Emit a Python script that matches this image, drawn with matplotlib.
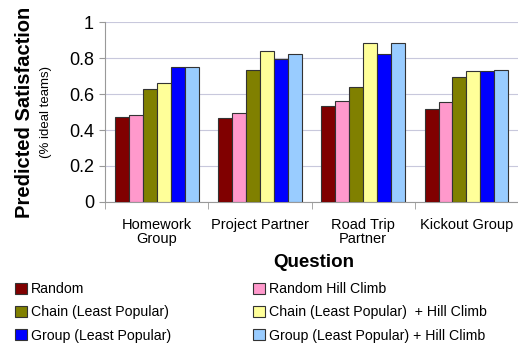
import numpy as np
import matplotlib
matplotlib.use("Agg")
import matplotlib.pyplot as plt

plt.rcParams['font.family'] = ['Liberation Sans', 'DejaVu Sans']

questions = ["Homework\nGroup", "Project Partner", "Road Trip\nPartner", "Kickout Group"]
series_names = ["Random", "Random Hill Climb", "Chain (Least Popular)",
                "Chain (Least Popular)  + Hill Climb", "Group (Least Popular)",
                "Group (Least Popular) + Hill Climb"]
colors = ["#800000", "#FF99CC", "#808000", "#FFFF99", "#0000FF", "#99CCFF"]

random_vals = [0.471, 0.466, 0.533, 0.518]
random_hc = [0.486, 0.497, 0.564, 0.559]
chain_lp = [0.630, 0.734, 0.639, 0.697]
chain_lp_hc = [0.661, 0.840, 0.887, 0.732]
group_lp = [0.754, 0.797, 0.825, 0.732]
group_lp_hc = [0.754, 0.825, 0.887, 0.737]
values = [random_vals, random_hc, chain_lp, chain_lp_hc, group_lp, group_lp_hc]

fig = plt.figure(figsize=(5.18, 3.45), dpi=100)
ax = fig.add_axes([0.203, 0.415, 0.797, 0.52])

x = np.arange(len(questions))
w = 0.135
handles = []
for i, (name, vals) in enumerate(zip(series_names, values)):
    b = ax.bar(x + (i - 2.5) * w, vals, w, color=colors[i], edgecolor="#333333",
               linewidth=0.8, label=name, zorder=3)
    handles.append(b)

ax.set_xlim(-0.5, len(questions) - 0.5)
ax.set_ylim(0, 1)
ax.set_yticks(np.arange(0, 1.01, 0.2))
ax.set_yticklabels(["0", "0.2", "0.4", "0.6", "0.8", "1"], fontsize=13)
ax.yaxis.grid(True, color="#C8C8DC", linewidth=0.8, zorder=0)
for s in ["top", "right"]:
    ax.spines[s].set_visible(False)
for s in ["left", "bottom"]:
    ax.spines[s].set_color("#999999")

ax.set_xticks(x)
ax.set_xticklabels(questions, fontsize=10.5, linespacing=1.0)
ax.tick_params(axis="x", length=0, pad=12)
ax.set_xticks(np.arange(-0.5, len(questions) + 0.5, 1), minor=True)
ax.tick_params(axis="x", which="minor", length=5, color="#999999")
ax.tick_params(axis="y", length=4, color="#999999", pad=4)

fig.text(0.048, 0.675, "Predicted Satisfaction", rotation=90, fontsize=14.5,
         fontweight="bold", ha="center", va="center")
fig.text(0.089, 0.675, "(% ideal teams)", rotation=90, fontsize=9.5,
         ha="center", va="center")
fig.text(0.605, 0.24, "Question", fontsize=13.5, fontweight="bold",
         ha="center", va="center")

order = [0, 2, 4, 1, 3, 5]
fig.legend([handles[k] for k in order], [series_names[k] for k in order],
           ncol=2, loc="lower left", bbox_to_anchor=(0.005, -0.03),
           frameon=False, fontsize=10.2, handlelength=0.8, handleheight=0.8,
           handletextpad=0.3, columnspacing=5.8, labelspacing=0.65)

fig.savefig("out.png", dpi=100)
